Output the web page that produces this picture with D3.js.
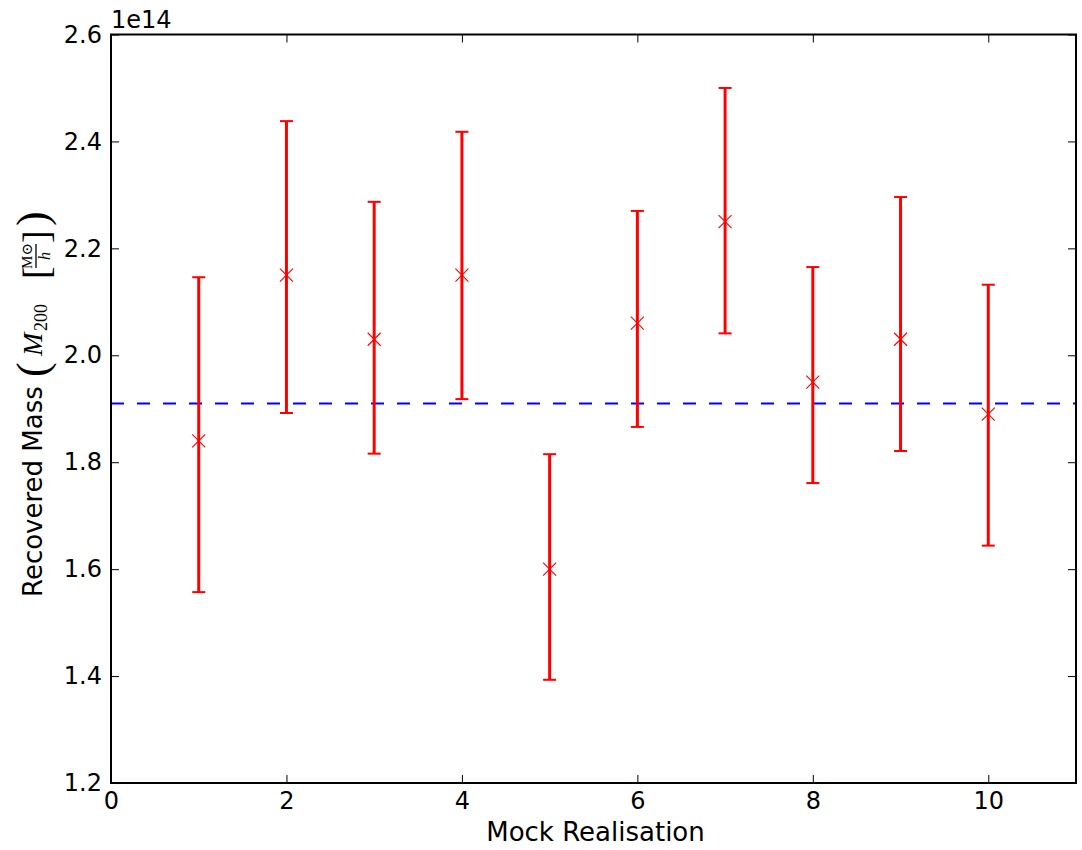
<!DOCTYPE html>
<html>
<head>
<meta charset="utf-8">
<script src="https://cdn.jsdelivr.net/npm/d3@7"></script>
<style>
  html, body { margin: 0; padding: 0; background: #fff; }
  svg { display: block; }
  text { font-family: "DejaVu Sans", sans-serif; fill: #000; }
</style>
</head>
<body>
<svg id="chart" width="1082" height="850"></svg>
<script>
// Recovered M200 per mock realisation, in units of 1e14 M_sun/h
const realisations = [1, 2, 3, 4, 5, 6, 7, 8, 9, 10];
const massCentre   = [1.84, 2.15, 2.03, 2.15, 1.60, 2.06, 2.25, 1.95, 2.03, 1.89];
const massUpper    = [2.146, 2.438, 2.287, 2.418, 1.815, 2.270, 2.500, 2.165, 2.296, 2.132];
const massLower    = [1.557, 1.892, 1.816, 1.918, 1.393, 1.866, 2.041, 1.761, 1.821, 1.644];
const trueMass     = 1.91;

const xTicks = [0, 2, 4, 6, 8, 10];
const yTicks = [1.2, 1.4, 1.6, 1.8, 2.0, 2.2, 2.4, 2.6];
const yExponentLabel = "1e14";

const svg = d3.select("#chart");
const frame = { left: 111, right: 1076, top: 34.5, bottom: 783 };

const x = d3.scaleLinear().domain([0, 11]).range([frame.left, frame.right]);
const y = d3.scaleLinear().domain([1.2, 2.6]).range([frame.bottom, frame.top]);

const tickLen = 8;
const tickFont = 24;
const labelFont = 26;

// Axes: inward ticks on all four sides, labels on left and bottom
const axisBottom = d3.axisBottom(x).tickValues(xTicks).tickFormat(d3.format("d"))
  .tickSizeInner(-tickLen).tickSizeOuter(0).tickPadding(9);
const axisTop = d3.axisTop(x).tickValues(xTicks).tickFormat("")
  .tickSizeInner(-tickLen).tickSizeOuter(0);
const axisLeft = d3.axisLeft(y).tickValues(yTicks).tickFormat(d3.format(".1f"))
  .tickSizeInner(-tickLen).tickSizeOuter(0).tickPadding(9);
const axisRight = d3.axisRight(y).tickValues(yTicks).tickFormat("")
  .tickSizeInner(-tickLen).tickSizeOuter(0);

function styleAxis(g) {
  g.select(".domain").remove();
  g.selectAll(".tick line").attr("stroke", "#000").attr("stroke-width", 1);
  g.selectAll(".tick text")
    .style("font-family", '"DejaVu Sans", sans-serif')
    .style("font-size", tickFont + "px")
    .attr("fill", "#000");
}

svg.append("g").attr("transform", `translate(0,${frame.bottom})`).call(axisBottom).call(styleAxis);
svg.append("g").attr("transform", `translate(0,${frame.top})`).call(axisTop).call(styleAxis);
svg.append("g").attr("transform", `translate(${frame.left},0)`).call(axisLeft).call(styleAxis);
svg.append("g").attr("transform", `translate(${frame.right},0)`).call(axisRight).call(styleAxis);

// Reference mass as a dashed line across the panel
svg.append("line")
  .attr("x1", frame.left).attr("x2", frame.right)
  .attr("y1", y(trueMass)).attr("y2", y(trueMass))
  .attr("stroke", "#0000ff").attr("stroke-width", 2)
  .attr("stroke-dasharray", "13,13");

// Error bars with caps
const rows = realisations.map((r, i) => ({
  r, c: massCentre[i], hi: massUpper[i], lo: massLower[i]
}));

const bars = svg.append("g");
bars.selectAll("line.stem").data(rows).join("line")
  .attr("class", "stem")
  .attr("x1", d => x(d.r)).attr("x2", d => x(d.r))
  .attr("y1", d => y(d.lo)).attr("y2", d => y(d.hi))
  .attr("stroke", "#ff0000").attr("stroke-width", 3);

const capHalf = 6.5;
["hi", "lo"].forEach(k => {
  bars.selectAll("line.cap-" + k).data(rows).join("line")
    .attr("class", "cap-" + k)
    .attr("x1", d => x(d.r) - capHalf).attr("x2", d => x(d.r) + capHalf)
    .attr("y1", d => y(d[k])).attr("y2", d => y(d[k]))
    .attr("stroke", "#ff0000").attr("stroke-width", 2);
});

// Cross markers at the recovered mass
const m = 6.5;
bars.selectAll("path.marker").data(rows).join("path")
  .attr("class", "marker")
  .attr("d", d => {
    const cx = x(d.r), cy = y(d.c);
    return `M${cx - m},${cy - m}L${cx + m},${cy + m}M${cx - m},${cy + m}L${cx + m},${cy - m}`;
  })
  .attr("stroke", "#ff0000").attr("stroke-width", 1.1).attr("fill", "none");

// Panel frame
svg.append("rect")
  .attr("x", frame.left).attr("y", frame.top)
  .attr("width", frame.right - frame.left).attr("height", frame.bottom - frame.top)
  .attr("fill", "none").attr("stroke", "#000").attr("stroke-width", 2);

// Offset label for the y axis
svg.append("text")
  .attr("x", frame.left).attr("y", 28)
  .style("font-size", tickFont + "px")
  .text(yExponentLabel);

// X axis title
svg.append("text")
  .attr("x", (frame.left + frame.right) / 2 + 2).attr("y", 841)
  .attr("text-anchor", "middle")
  .style("font-size", labelFont + "px")
  .text("Mock Realisation");

// Y axis title with the mass unit set as a small formula
const yl = svg.append("g").attr("transform", "translate(42,597) rotate(-90)");
yl.append("text").attr("x", 0).attr("y", 0)
  .style("font-size", labelFont + "px")
  .text("Recovered Mass");

const serif = '"Liberation Serif", "DejaVu Serif", serif';
const paren = (txt, px) => yl.append("text")
  .attr("x", px).attr("y", 5)
  .style("font-family", serif).style("font-size", "44px")
  .text(txt);
paren("(", 220);
yl.append("text").attr("x", 241).attr("y", 0)
  .style("font-family", serif).style("font-style", "italic").style("font-size", "28px")
  .text("M");
yl.append("text").attr("x", 266).attr("y", 5)
  .style("font-family", serif).style("font-size", "18px")
  .text("200");
// bracketed fraction M_sun / h
const br = (txt, px) => yl.append("text")
  .attr("x", px).attr("y", 7)
  .style("font-family", serif).style("font-size", "38px")
  .text(txt);
br("[", 318);
yl.append("text").attr("x", 341).attr("y", -10)
  .attr("text-anchor", "middle")
  .style("font-family", serif).style("font-size", "15px")
  .text("M\u2299");
yl.append("line")
  .attr("x1", 329).attr("x2", 353).attr("y1", -6).attr("y2", -6)
  .attr("stroke", "#000").attr("stroke-width", 1.3);
yl.append("text").attr("x", 341).attr("y", 8)
  .attr("text-anchor", "middle")
  .style("font-family", serif).style("font-style", "italic").style("font-size", "16px")
  .text("h");
br("]", 354);
paren(")", 371);
</script>
</body>
</html>
